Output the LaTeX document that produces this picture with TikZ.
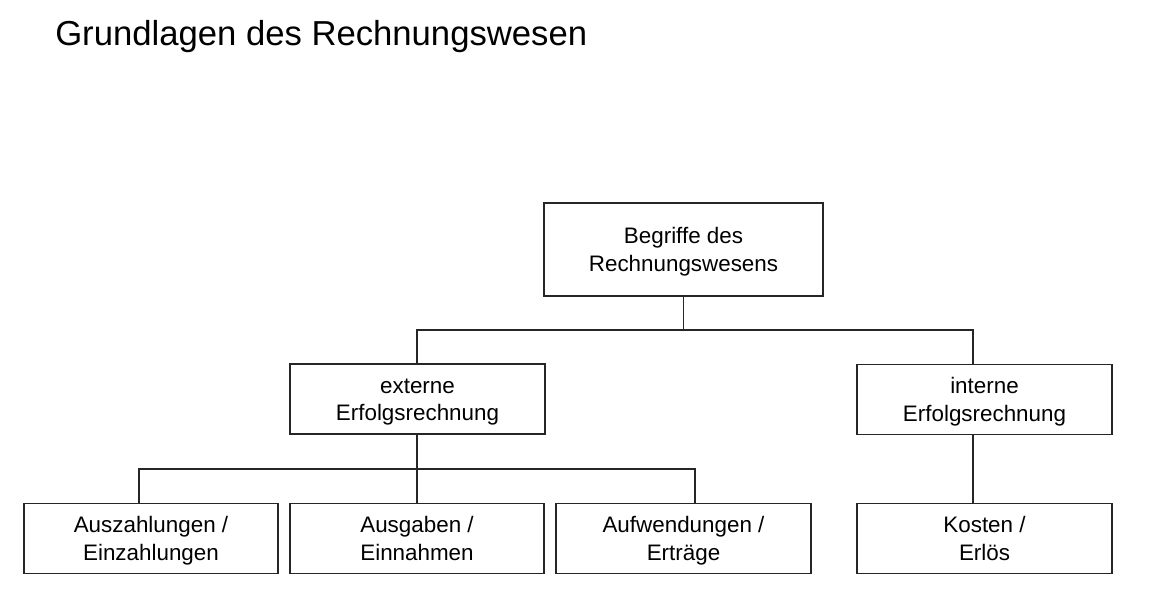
\documentclass[tikz,border=0pt]{standalone}
\usepackage{fontspec}
\setmainfont{Liberation Sans}
\usetikzlibrary{positioning}

\tikzset{
	box/.style={draw=black!85, line width=0.9pt, rectangle, inner sep=0pt, align=center,
		minimum width=191.25pt, minimum height=52.5pt, text height=32.3pt, text depth=0pt,
		font=\fontsize{16.8}{20.3}\selectfont},
	link/.style={draw=black!85, line width=0.9pt}
}

\begin{document}
\begin{tikzpicture}[x=0.75pt, y=-0.75pt]
		\useasboundingbox (0,0) rectangle (1155,599);

		\node[anchor=base west, inner sep=0pt, font=\fontsize{26}{30}\selectfont] (titel) at (55,46) {Grundlagen des Rechnungswesen};

		\node[box, minimum width=209.25pt, minimum height=69.75pt] (begriffe) at (683.5,249.5) {Begriffe des\\Rechnungswesens};

		\node[box] (extern) at (417.5,399) {externe\\Erfolgsrechnung};
		\node[box] (intern) at (984.5,399.5) {interne\\Erfolgsrechnung};

		\node[box, minimum width=190.5pt] (zahlungen) at (151,538.5) {Auszahlungen /\\Einzahlungen};
		\node[box, minimum width=190.5pt] (ausgaben) at (417,538.5) {Ausgaben /\\Einnahmen};
		\node[box] (aufwand) at (683.5,538.5) {Aufwendungen /\\Erträge};
		\node[box] (kosten) at (984.5,538.5) {Kosten /\\Erlös};

		\coordinate (oben l) at (417,330);
		\coordinate (oben r) at (973,330);
		\coordinate (unten l) at (139,469);
		\coordinate (unten r) at (695,469);

		\draw[link] (begriffe.south) -- (begriffe.south |- oben l);
		\draw[link] (extern.north -| oben l) |- (oben r) -- (oben r |- intern.north);
		\draw[link] (oben r |- intern.south) -- (oben r |- kosten.north);

		\draw[link] (extern.south -| oben l) -- (oben l |- unten l);
		\draw[link] (zahlungen.north -| unten l) |- (unten r) -- (unten r |- aufwand.north);
		\draw[link] (ausgaben.north) -- (ausgaben.north |- unten l);

	\end{tikzpicture}
\end{document}
